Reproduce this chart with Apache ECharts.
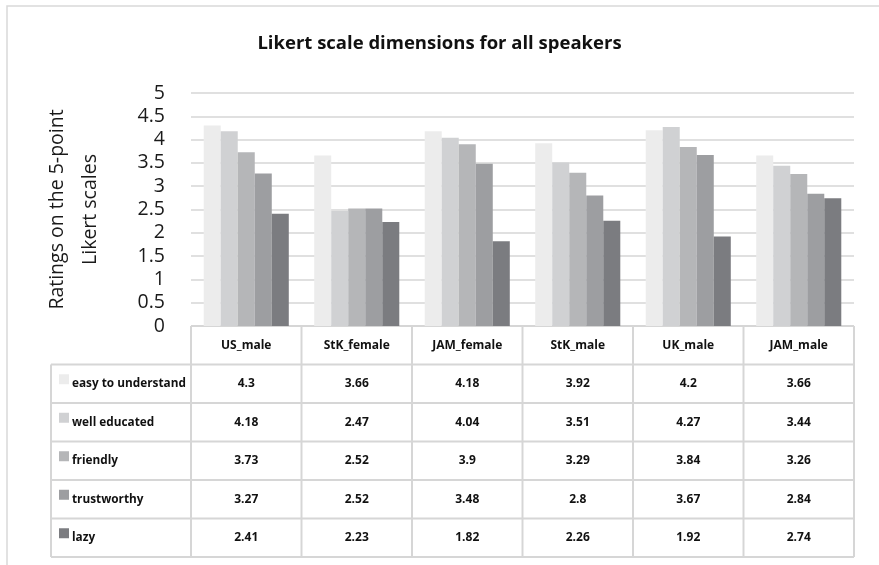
<!DOCTYPE html>
<html>
<head>
<meta charset="utf-8">
<script src="https://cdn.jsdelivr.net/npm/echarts@6/dist/echarts.min.js"></script>
<style>
  html, body { margin: 0; padding: 0; background: #fff; }
  #chart { width: 879px; height: 565px; }
</style>
</head>
<body>
<div id="chart"></div>
<script>
// Speaker groups along the x axis
const speakers = ['US_male', 'StK_female', 'JAM_female', 'StK_male', 'UK_male', 'JAM_male'];

// Mean rating per dimension, one value per speaker group
const easyToUnderstand = [4.3, 3.66, 4.18, 3.92, 4.2, 3.66];
const wellEducated     = [4.18, 2.47, 4.04, 3.51, 4.27, 3.44];
const friendly         = [3.73, 2.52, 3.9, 3.29, 3.84, 3.26];
const trustworthy      = [3.27, 2.52, 3.48, 2.8, 3.67, 2.84];
const lazy             = [2.41, 2.23, 1.82, 2.26, 1.92, 2.74];

const dimensionNames = ['easy to understand', 'well educated', 'friendly', 'trustworthy', 'lazy'];
const dimensionValues = [easyToUnderstand, wellEducated, friendly, trustworthy, lazy];
const dimensionColors = ['#ececec', '#d0d1d3', '#b5b6b8', '#9d9ea1', '#7b7c80'];

const yTicks = { min: 0, max: 5, step: 0.5 };

const FONT = '"Open Sans", "Noto Sans", sans-serif';
const GRID = { left: 191, right: 25, top: 93, bottom: 239 };
const ROW_H = 38.5;
const LABEL_COL_LEFT = 51;
const BORDER = '#d6d6d6';

const chart = echarts.init(document.getElementById('chart'), null, { renderer: 'canvas' });

chart.setOption({
  animation: false,
  backgroundColor: '#fff',
  title: {
    text: 'Likert scale dimensions for all speakers',
    left: 'center',
    top: 29,
    textStyle: { fontFamily: FONT, fontSize: 18.5, fontWeight: 'bold', color: '#111' }
  },
  grid: GRID,
  xAxis: {
    type: 'category',
    data: speakers,
    axisLine: { show: false },
    axisTick: { show: false },
    axisLabel: { show: false },
    splitLine: { show: false }
  },
  yAxis: {
    type: 'value',
    min: yTicks.min,
    max: yTicks.max,
    interval: yTicks.step,
    name: 'Ratings on the 5-point\nLikert scales',
    nameLocation: 'middle',
    nameRotate: 90,
    nameGap: 84,
    nameTextStyle: { fontFamily: FONT, fontSize: 19.5, color: '#1a1a1a', lineHeight: 33 },
    axisLine: { show: false },
    axisTick: { show: false },
    axisLabel: { fontFamily: FONT, fontSize: 19.5, color: '#1a1a1a', margin: 26 },
    splitLine: { lineStyle: { color: '#d6d6d6', width: 1.5 } }
  },
  series: dimensionNames.map((name, i) => ({
    type: 'bar',
    name: name,
    data: dimensionValues[i],
    barGap: '0%',
    barCategoryGap: '23%',
    itemStyle: { color: dimensionColors[i] }
  }))
});

// Data table under the plot, laid out from the category axis positions
function buildTable() {
  const elements = [];
  const axisY = chart.convertToPixel({ yAxisIndex: 0 }, 0);
  const centers = speakers.map((s, i) => chart.convertToPixel({ xAxisIndex: 0 }, i));
  const colW = centers.length > 1 ? centers[1] - centers[0] : 110;
  const tableLeft = centers[0] - colW / 2;
  const tableRight = centers[centers.length - 1] + colW / 2;
  const nRows = dimensionNames.length;
  const bottom = axisY + ROW_H * (nRows + 1);
  const line = (x1, y1, x2, y2) => ({
    type: 'line', silent: true,
    shape: { x1, y1, x2, y2 },
    style: { stroke: BORDER, lineWidth: 2 }
  });

  // Outer chart frame
  elements.push({
    type: 'rect', silent: true, z: -1,
    shape: { x: 7, y: 6, width: 900, height: 600 },
    style: { fill: 'none', stroke: '#d9d9d9', lineWidth: 1.5 }
  });

  // Header row borders (only over the data columns)
  elements.push(line(tableLeft, axisY, tableRight, axisY));
  // Horizontal row lines across the full width
  for (let r = 1; r <= nRows + 1; r++) {
    const y = axisY + ROW_H * r;
    elements.push(line(LABEL_COL_LEFT, y, tableRight, y));
  }
  // Vertical lines
  elements.push(line(LABEL_COL_LEFT, axisY + ROW_H, LABEL_COL_LEFT, bottom));
  for (let c = 0; c <= speakers.length; c++) {
    const x = tableLeft + colW * c;
    elements.push(line(x, axisY, x, bottom));
  }

  // Header labels
  speakers.forEach((s, i) => {
    elements.push({
      type: 'text', silent: true,
      style: {
        x: centers[i], y: axisY + ROW_H / 2, text: s,
        align: 'center', verticalAlign: 'middle',
        font: 'bold 12px ' + FONT, fill: '#111'
      }
    });
  });

  // Body rows: legend key, dimension name, values
  dimensionNames.forEach((name, r) => {
    const cy = axisY + ROW_H * (r + 1) + ROW_H / 2;
    elements.push({
      type: 'rect', silent: true,
      shape: { x: 59, y: cy - 9.5, width: 10, height: 10 },
      style: { fill: dimensionColors[r] }
    });
    elements.push({
      type: 'text', silent: true,
      style: {
        x: 72, y: cy, text: name,
        align: 'left', verticalAlign: 'middle',
        font: 'bold 11.8px ' + FONT, fill: '#111'
      }
    });
    dimensionValues[r].forEach((v, i) => {
      elements.push({
        type: 'text', silent: true,
        style: {
          x: centers[i], y: cy, text: String(v),
          align: 'center', verticalAlign: 'middle',
          font: 'bold 12px ' + FONT, fill: '#111'
        }
      });
    });
  });

  chart.setOption({ graphic: { elements } });
}

buildTable();
</script>
</body>
</html>
